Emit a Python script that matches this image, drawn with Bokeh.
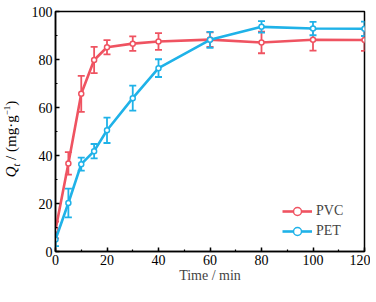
import math
from bokeh.plotting import figure
from bokeh.models import (ColumnDataSource, Whisker, SingleIntervalTicker, Range1d,
                          Legend, LegendItem, Div)
from bokeh.layouts import row
from bokeh.embed import file_html
from bokeh.resources import INLINE

time_min = [0, 5, 10, 15, 20, 30, 40, 60, 80, 100, 120]
pvc_q = [9.0, 36.7, 65.7, 79.8, 85.1, 86.6, 87.5, 88.3, 87.1, 88.2, 88.1]
pvc_err = [3.5, 4.7, 7.5, 5.5, 3.0, 3.0, 3.5, 3.0, 4.5, 4.5, 4.5]
pet_q = [5.0, 20.2, 36.4, 41.8, 50.5, 63.9, 76.4, 88.2, 93.6, 92.9, 92.8]
pet_err = [2.8, 6.0, 2.7, 3.0, 5.3, 5.2, 3.7, 3.3, 2.4, 2.8, 3.0]
x_title = "Time / min"

PVC_COLOR = "#EF5361"
PET_COLOR = "#1FB2E8"
FONT = "Liberation Serif"
DIV_W = 14
W, H = 360 - DIV_W, 286

p = figure(width=W, height=H, output_backend="svg", toolbar_location=None,
           x_range=Range1d(0, 120), y_range=Range1d(0, 100),
           min_border_left=45 - DIV_W, min_border_right=6, min_border_top=11,
           min_border_bottom=35)
p.xgrid.visible = False
p.ygrid.visible = False
p.outline_line_color = "black"
p.outline_line_width = 1.5
p.outline_line_alpha = 1.0

for ax in (p.xaxis[0], p.yaxis[0]):
    ax.axis_line_width = 1.5
    ax.major_tick_in = 4
    ax.major_tick_out = 0
    ax.minor_tick_in = 2
    ax.minor_tick_out = 0
    ax.major_tick_line_width = 1.5
    ax.minor_tick_line_width = 1.2
    ax.major_label_text_font = FONT
    ax.major_label_text_font_size = "14px"
    ax.major_label_text_color = "black"

p.xaxis[0].ticker = SingleIntervalTicker(interval=20, num_minor_ticks=2)
p.yaxis[0].ticker = SingleIntervalTicker(interval=20, num_minor_ticks=2)
p.xaxis[0].major_label_standoff = 3
p.yaxis[0].major_label_standoff = 3
p.xaxis[0].axis_label = x_title
p.xaxis[0].axis_label_text_font = FONT
p.xaxis[0].axis_label_text_font_size = "14px"
p.xaxis[0].axis_label_text_font_style = "normal"
p.xaxis[0].axis_label_standoff = 0

def series(q, err, color):
    src = ColumnDataSource(dict(x=time_min, y=q,
                                lo=[a - b for a, b in zip(q, err)],
                                hi=[a + b for a, b in zip(q, err)]))
    w = Whisker(source=src, base="x", lower="lo", upper="hi",
                line_color=color, line_width=1.8)
    for h in (w.upper_head, w.lower_head):
        h.size = 7
        h.line_color = color
        h.line_width = 1.8
    p.add_layout(w)
    ln = p.line("x", "y", source=src, line_color=color, line_width=2.6)
    sc = p.scatter("x", "y", source=src, size=5, marker="circle",
                   fill_color="white", line_color=color, line_width=1.5)
    return ln, sc

pvc_r = series(pvc_q, pvc_err, PVC_COLOR)
pet_r = series(pet_q, pet_err, PET_COLOR)

legend = Legend(items=[LegendItem(label="PVC", renderers=list(pvc_r)),
                       LegendItem(label="PET", renderers=list(pet_r))],
                location=(227, 10), padding=0, margin=0, spacing=0,
                glyph_width=30, glyph_height=20, label_standoff=4,
                border_line_color=None, background_fill_alpha=0,
                label_text_font=FONT, label_text_font_size="14px",
                label_height=20)
p.add_layout(legend)

ylab_html = (
    '<div style="position:relative;width:%dpx;height:%dpx;">'
    '<div style="position:absolute;left:50%%;top:134px;transform:translate(-50%%,-50%%) rotate(-90deg);'
    'white-space:nowrap;font-family:\'Liberation Serif\';font-size:15px;color:black;line-height:1;">'
    '<i>Q</i><sub style="font-size:10px;"><i>t</i></sub> / (mg·g<sup style="font-size:9px;">−1</sup>)'
    '</div></div>' % (DIV_W, H)
)
ylab = Div(text=ylab_html, width=DIV_W, height=H)

layout = row(ylab, p)
open("out.html", "w").write(file_html(layout, INLINE))
